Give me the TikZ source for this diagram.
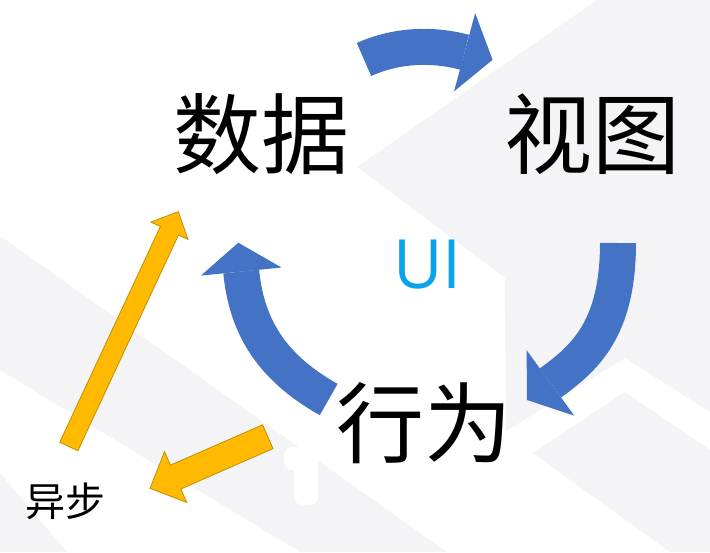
\documentclass[tikz,border=0pt]{standalone}
\usepackage{fontspec}
\newfontfamily\cjkfont{Noto Sans CJK SC}
\newfontfamily\uifont{Open Sans}
\usetikzlibrary{arrows.meta,calc}
\definecolor{bgray}{RGB}{244,244,246}
\definecolor{pptblue}{RGB}{68,114,196}
\definecolor{amber}{RGB}{255,185,0}
\definecolor{amberline}{RGB}{191,144,0}
\definecolor{uiblue}{RGB}{10,162,236}
% straight block arrow: style, tail, tip, half shaft, head length, half head width
\newcommand\flatarrow[6]{%
  \coordinate (fa-h) at ($(#3)!#5!(#2)$);
  \filldraw[#1] ($(#2)!#4!90:(#3)$) -- ($(fa-h)!#4!90:(#3)$) -- ($(fa-h)!#6!90:(#3)$)
    -- (#3) -- ($(fa-h)!#6!-90:(#3)$) -- ($(fa-h)!#4!-90:(#3)$) -- ($(#2)!#4!-90:(#3)$) -- cycle;}
\begin{document}
\begin{tikzpicture}[x=1pt,y=-1pt,
  bgshape/.style={fill=bgray,draw=none},
  bluearrow/.style={draw=pptblue,line width=36pt,
    -{Triangle[length=29pt,width=81pt,line width=0pt]}},
  goldarrow/.style={fill=amber,draw=amberline,line width=0.8pt,line join=miter},
  bigword/.style={font=\cjkfont\fontsize{88}{100}\selectfont,inner sep=0pt,anchor=center},
  smallword/.style={font=\cjkfont\fontsize{40}{48}\selectfont,inner sep=0pt,anchor=center},
  uiword/.style={font=\uifont\fontsize{68}{80}\selectfont,text=uiblue,inner sep=0pt,anchor=center}]
\useasboundingbox (0,0) rectangle (710,552);
\fill[white] (0,0) rectangle (710,552);
% background
\fill[bgshape] (597,0) -- (710,0) -- (710,412) -- (625,358) -- (506,431) -- (505,278) -- (357,167) -- cycle;
\fill[bgshape] (533,453) -- (625,392) -- (710,450) -- (710,552) -- (670,552) -- cycle;
\fill[bgshape] (0,236) -- (447,552) -- (300,552) -- (0,370) -- cycle;
\fill[bgshape] (0,473) -- (67,552) -- (0,552) -- cycle;
\fill[white,rounded corners=8pt] (284,447) rectangle (318,470);
\fill[white,rounded corners=8pt] (294,447) rectangle (318,505);
% text nodes
\node[bigword] (data) at (261,134) {数据};
\node[bigword] (view) at (592,134) {视图};
\node[bigword] (act) at (424.5,423.5) {行为};
\node[uiword] (ui) at (427.5,265) {UI};
\node[smallword] (async) at (65,501.5) {异步};
% arrow ends
\coordinate (t1) at (364,59.5);   \coordinate (h1) at (492.6,59.8);
\coordinate (t2) at (618,243);    \coordinate (h2) at (527,400);
\coordinate (t3) at (328.7,399.5); \coordinate (h3) at (238.3,242.7);
\coordinate (t4) at (68.8,446.5);  \coordinate (h4) at (178.3,211.7);
\coordinate (t5) at (267.8,436.7); \coordinate (h5) at (150,488.3);
% blue cycle arrows
\draw[bluearrow] (t1) .. controls +(37.6,-17) and +(-53,-14.3) .. (h1);
\draw[bluearrow] (t2) .. controls +(0,87) and +(56.7,-41.3) .. (h2);
\draw[bluearrow] (t3) .. controls +(-61,-34.1) and +(8,79.6) .. (h3);
% gold arrows
\flatarrow{goldarrow}{t4}{h4}{10pt}{21pt}{20.5pt}
\flatarrow{goldarrow}{t5}{h5}{13pt}{28pt}{27.7pt}
\end{tikzpicture}
\end{document}
